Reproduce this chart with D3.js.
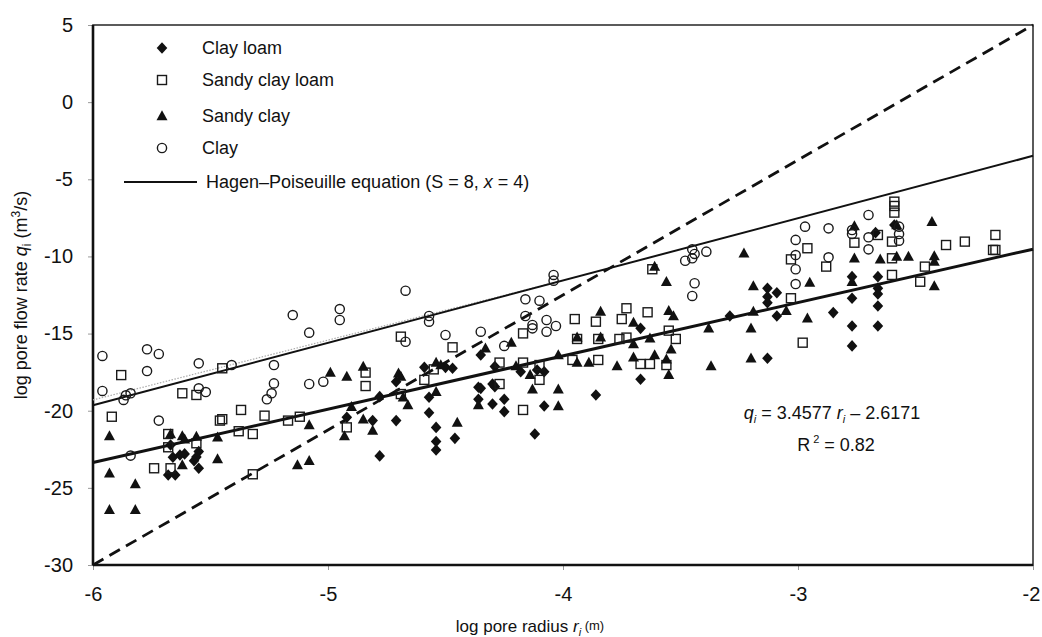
<!DOCTYPE html>
<html>
<head>
<meta charset="utf-8">
<script src="https://cdn.jsdelivr.net/npm/d3@7"></script>
<style>
  body { margin: 0; background: #fff; }
  text { font-family: "Liberation Sans", Arial, sans-serif; fill: #111; }
</style>
</head>
<body>
<svg id="chart"></svg>
<script>
// log pore radius / log pore flow rate pairs
const clayLoam = [
  [-5.67,-22.22],[-5.66,-23.02],[-5.63,-22.87],[-5.61,-22.80],[-5.68,-24.17],[-5.65,-24.17],
  [-5.57,-23.24],[-5.55,-22.65],[-5.55,-23.73],[-5.56,-23.0],[-4.78,-19.09],[-4.81,-20.64],
  [-4.71,-20.64],[-4.78,-22.93],[-4.71,-18.12],[-4.92,-20.43],
  [-4.59,-17.19],[-4.50,-17.19],[-4.47,-17.25],[-4.57,-19.13],[-4.54,-21.08],[-4.57,-20.13],
  [-4.54,-22.0],[-4.54,-22.55],[-4.46,-21.79],[-4.36,-18.48],[-4.35,-18.55],[-4.36,-19.26],
  [-4.30,-19.56],[-4.25,-19.26],[-4.25,-20.06],[-4.30,-18.27],[-4.29,-18.44],[-4.35,-16.39],
  [-4.29,-17.14],[-4.18,-17.47],[-4.11,-17.36],[-4.08,-17.47],[-4.08,-19.69],[-4.12,-21.51],
  [-3.86,-18.98],[-3.67,-14.66],[-3.67,-17.96],
  [-3.13,-12.07],[-3.13,-12.61],[-3.13,-13.0],[-3.09,-12.35],[-3.29,-13.86],[-3.09,-13.86],
  [-2.85,-13.64],[-2.77,-11.31],[-2.77,-12.71],[-2.77,-14.51],[-2.77,-15.80],[-2.66,-11.31],
  [-2.66,-12.07],[-2.66,-12.43],[-2.66,-13.21],[-2.66,-14.51],[-2.67,-8.46],[-3.13,-16.60],
  [-2.59,-7.96]
];
const sandyClayLoam = [
  [-5.88,-17.69],[-5.92,-20.39],[-5.62,-18.87],[-5.56,-18.98],[-5.45,-17.25],[-5.37,-19.95],
  [-5.27,-20.32],[-5.46,-20.64],[-5.45,-20.55],[-5.38,-21.33],[-5.32,-21.51],[-5.17,-20.64],
  [-5.12,-20.39],[-4.84,-17.53],[-4.84,-18.40],[-4.92,-21.08],[-5.68,-21.51],[-5.68,-22.37],
  [-5.56,-22.11],[-5.74,-23.73],[-5.67,-23.73],[-5.32,-24.12],[-4.69,-15.20],[-4.69,-18.92],
  [-4.47,-15.89],[-4.17,-14.99],[-4.27,-16.88],[-4.17,-16.88],[-4.10,-17.04],[-4.10,-18.0],
  [-4.55,-17.32],[-4.59,-18.0],[-4.27,-18.27],[-4.17,-19.95],[-3.95,-14.06],[-3.86,-14.23],
  [-3.75,-14.06],[-3.73,-13.36],[-3.64,-13.62],[-3.94,-15.35],[-3.85,-15.35],[-3.76,-15.35],
  [-3.73,-15.26],[-3.55,-14.81],[-3.52,-15.35],[-3.96,-16.71],[-3.85,-16.71],[-3.67,-16.97],
  [-3.63,-16.97],[-3.56,-17.04],[-3.62,-10.83],
  [-2.59,-6.45],[-2.59,-6.73],[-2.59,-7.16],[-2.66,-8.61],[-2.76,-9.11],[-2.96,-9.47],
  [-3.03,-10.19],[-2.88,-10.66],[-2.60,-9.04],[-2.60,-10.12],[-2.60,-11.20],[-2.37,-9.26],
  [-2.29,-9.04],[-2.16,-8.61],[-2.17,-9.58],[-2.16,-9.58],[-2.46,-10.66],[-2.48,-11.64],
  [-3.03,-12.71],[-2.98,-15.59]
];
const sandyClay = [
  [-5.93,-21.64],[-5.93,-24.05],[-5.82,-24.75],[-5.93,-26.43],[-5.82,-26.43],[-5.67,-21.51],
  [-5.62,-21.64],[-5.61,-21.86],[-5.56,-21.68],[-5.47,-21.73],[-5.62,-23.52],[-5.47,-23.13],
  [-4.99,-17.53],[-4.92,-17.79],[-4.85,-17.14],[-5.08,-20.93],[-5.13,-23.52],[-5.08,-23.24],
  [-4.90,-19.74],[-4.93,-21.64],[-4.85,-20.55],[-4.81,-21.29],[-4.70,-17.58],
  [-4.69,-17.79],[-4.68,-19.13],[-4.66,-19.63],[-4.54,-16.88],[-4.52,-17.04],[-4.54,-18.77],
  [-4.45,-20.77],[-4.36,-19.63],[-4.33,-15.95],[-4.22,-15.59],[-4.20,-17.10],[-4.14,-17.68],
  [-4.13,-18.61],[-4.02,-16.39],[-4.02,-18.61],[-4.02,-19.69],[-3.94,-15.24],[-3.94,-16.88],
  [-3.89,-16.88],[-3.84,-13.58],[-3.84,-15.24],[-3.77,-17.10],[-3.70,-14.29],[-3.70,-15.68],
  [-3.70,-16.54],[-3.63,-15.30],[-3.61,-16.39],[-3.56,-11.64],[-3.55,-13.52],[-3.53,-13.86],
  [-3.54,-16.02],[-3.56,-16.67],[-3.55,-17.68],[-3.61,-10.66],
  [-3.23,-9.80],[-3.19,-11.92],[-2.95,-11.70],[-2.76,-8.03],[-2.76,-10.12],[-2.65,-10.19],
  [-2.58,-10.01],[-2.53,-10.01],[-2.43,-7.75],[-2.42,-9.97],[-2.42,-10.34],[-2.42,-11.92],
  [-2.77,-11.64],[-2.58,-7.96],[-3.38,-14.66],[-3.20,-14.66],[-3.19,-13.58],[-3.05,-13.52],
  [-2.96,-14.01],[-3.37,-17.10],[-3.20,-16.60]
];
const clay = [
  [-5.96,-16.45],[-5.77,-16.02],[-5.72,-16.32],[-5.77,-17.43],[-5.55,-16.93],[-5.96,-18.72],
  [-5.87,-19.3],[-5.84,-18.87],[-5.86,-19.0],[-5.55,-18.55],[-5.52,-18.79],[-5.41,-17.04],
  [-5.23,-17.04],[-5.23,-18.23],[-5.24,-18.87],[-5.26,-19.26],[-5.08,-18.27],[-5.02,-18.12],
  [-5.72,-20.64],[-5.84,-22.91],[-5.08,-14.94],[-5.15,-13.8],[-4.95,-13.41],[-4.95,-14.12],
  [-4.67,-12.22],[-4.57,-13.86],[-4.57,-14.23],[-4.50,-15.09],[-4.67,-15.53],[-4.35,-14.88],
  [-4.25,-15.80],[-4.16,-12.78],[-4.10,-12.87],[-4.16,-13.86],[-4.13,-14.44],[-4.13,-14.66],
  [-4.07,-14.12],[-4.03,-14.51],[-4.07,-14.88],[-4.04,-11.20],[-4.04,-11.57],[-3.45,-9.54],
  [-3.44,-9.84],[-3.48,-10.28],[-3.45,-10.12],[-3.44,-11.74],[-3.45,-12.56],[-3.39,-9.69],
  [-2.97,-8.07],[-2.87,-8.18],[-3.01,-8.93],[-3.01,-9.91],[-3.01,-10.83],[-3.01,-11.79],
  [-2.87,-10.06],[-2.77,-8.29],[-2.77,-8.55],[-2.70,-8.76],[-2.70,-7.31],[-2.70,-9.54],
  [-2.57,-8.07],[-2.57,-8.55],[-2.57,-8.98]
];

// lines: [x, y] end points
const fitLine = [[-6, -23.36], [-2, -9.53]];        // q = 3.4577 r - 2.6171
const hagenLine = [[-6, -19.64], [-2, -3.48]];
const hagenShadow = [[-6, -19.3], [-4.0, -11.55]];
const dashLine = [[-6, -30], [-2, 5]];

const xTicks = [-6, -5, -4, -3, -2];
const yTicks = [5, 0, -5, -10, -15, -20, -25, -30];
const legendNames = ["Clay loam", "Sandy clay loam", "Sandy clay", "Clay"];

const width = 1042, height = 637;
const margin = { top: 25, right: 9, bottom: 72, left: 93 };

const svg = d3.select("#chart").attr("width", width).attr("height", height);
svg.append("rect").attr("width", width).attr("height", height).attr("fill", "#fff");

const x = d3.scaleLinear().domain([-6, -2]).range([margin.left, width - margin.right]);
const y = d3.scaleLinear().domain([-30, 5]).range([height - margin.bottom, margin.top]);

// marker painters
const shapes = {
  diamond: (g) => g.append("path").attr("d", "M0,-5.8L5.3,0L0,5.8L-5.3,0Z").attr("fill", "#111"),
  square: (g) => g.append("rect").attr("x", -4.5).attr("y", -4.5).attr("width", 9).attr("height", 9)
    .attr("fill", "none").attr("stroke", "#1a1a1a").attr("stroke-width", 1.4),
  triangle: (g) => g.append("path").attr("d", "M0,-5.8L5.5,4.2L-5.5,4.2Z").attr("fill", "#111"),
  circle: (g) => g.append("circle").attr("r", 4.6).attr("fill", "none").attr("stroke", "#1a1a1a").attr("stroke-width", 1.4)
};
const series = [
  { name: legendNames[0], data: clayLoam, shape: "diamond" },
  { name: legendNames[1], data: sandyClayLoam, shape: "square" },
  { name: legendNames[2], data: sandyClay, shape: "triangle" },
  { name: legendNames[3], data: clay, shape: "circle" }
];

// axes (plain hyphen minus like the original)
const fmt = (d) => String(d);
const yAxis = svg.append("g")
  .attr("transform", `translate(${margin.left},0)`)
  .call(d3.axisLeft(y).tickValues(yTicks).tickSize(5).tickPadding(15).tickFormat(fmt));
const xAxis = svg.append("g")
  .attr("transform", `translate(0,${height - margin.bottom})`)
  .call(d3.axisBottom(x).tickValues(xTicks).tickSize(5).tickPadding(17).tickFormat(fmt));
[xAxis, yAxis].forEach((a) => {
  a.select(".domain").remove();
  a.selectAll(".tick line").attr("stroke", "#999").attr("stroke-width", 1);
  a.selectAll(".tick text").attr("font-size", 20).attr("fill", "#111")
    .attr("font-family", "Liberation Sans, Arial, sans-serif");
});
// keep the last x label inside the picture
xAxis.selectAll(".tick text").filter((d) => d === -2).attr("dx", -2);

// frame
const x0 = x(-6), x1 = x(-2), y0 = y(-30), y1 = y(5);
svg.append("rect").attr("x", x0).attr("y", y1).attr("width", x1 - x0).attr("height", y0 - y1)
  .attr("fill", "none").attr("stroke", "#333").attr("stroke-width", 1.6);
svg.append("line").attr("x1", x0).attr("x2", x0).attr("y1", y1).attr("y2", y0)
  .attr("stroke", "#111").attr("stroke-width", 2.6);
svg.append("line").attr("x1", x0).attr("x2", x1).attr("y1", y0).attr("y2", y0)
  .attr("stroke", "#111").attr("stroke-width", 2.6);

// lines
const line = d3.line().x((d) => x(d[0])).y((d) => y(d[1]));
const plot = svg.append("g");
plot.append("path").attr("d", line(hagenShadow)).attr("fill", "none")
  .attr("stroke", "#aaa").attr("stroke-width", 1.2).attr("stroke-dasharray", "1.5,1.5");
plot.append("path").attr("d", line(hagenLine)).attr("fill", "none")
  .attr("stroke", "#111").attr("stroke-width", 2);
plot.append("path").attr("d", line(fitLine)).attr("fill", "none")
  .attr("stroke", "#111").attr("stroke-width", 3);
plot.append("path").attr("d", line(dashLine)).attr("fill", "none")
  .attr("stroke", "#111").attr("stroke-width", 2.8).attr("stroke-dasharray", "12,7");

// points
series.forEach((s) => {
  plot.append("g").selectAll("g")
    .data(s.data)
    .join("g")
    .attr("transform", (d) => `translate(${x(d[0])},${y(d[1])})`)
    .each(function () { shapes[s.shape](d3.select(this)); });
});

// legend
const legend = svg.append("g").attr("font-size", 18);
const legendRows = [48, 80, 116, 148];
series.forEach((s, i) => {
  const g = legend.append("g").attr("transform", `translate(162,${legendRows[i]})`);
  shapes[s.shape](g);
  g.append("text").attr("x", 40).attr("y", 6).text(s.name);
});
legend.append("line").attr("x1", 124).attr("x2", 197).attr("y1", 182).attr("y2", 182)
  .attr("stroke", "#111").attr("stroke-width", 2);
const hp = legend.append("text").attr("x", 206).attr("y", 188);
hp.append("tspan").text("Hagen\u2013Poiseuille equation (S = 8, ");
hp.append("tspan").attr("font-style", "italic").text("x");
hp.append("tspan").text(" = 4)");

// equation
const eq = svg.append("g").attr("font-size", 18).attr("text-anchor", "middle");
const e1 = eq.append("text").attr("x", 832).attr("y", 419);
e1.append("tspan").attr("font-style", "italic").text("q");
e1.append("tspan").attr("font-size", 11).attr("font-style", "italic").attr("dy", 4).text("i");
e1.append("tspan").attr("dy", -4).text(" = 3.4577 ");
e1.append("tspan").attr("font-style", "italic").text("r");
e1.append("tspan").attr("font-size", 11).attr("font-style", "italic").attr("dy", 4).text("i");
e1.append("tspan").attr("dy", -4).text(" \u2013 2.6171");
const e2 = eq.append("text").attr("x", 836).attr("y", 451);
e2.append("tspan").text("R");
e2.append("tspan").attr("font-size", 11).attr("dy", -8).text(" 2");
e2.append("tspan").attr("dy", 8).text(" = 0.82");

// axis titles
const yt = svg.append("text").attr("font-size", 18).attr("text-anchor", "middle")
  .attr("transform", `translate(27,${(y0 + y1) / 2}) rotate(-90)`);
yt.append("tspan").text("log pore flow rate ");
yt.append("tspan").attr("font-style", "italic").text("q");
yt.append("tspan").attr("font-size", 12).attr("dy", 4).text("i");
yt.append("tspan").attr("dy", -4).text(" (m");
yt.append("tspan").attr("font-size", 12).attr("dy", -7).text("3");
yt.append("tspan").attr("dy", 7).text("/s)");

const xt = svg.append("text").attr("font-size", 17).attr("text-anchor", "middle")
  .attr("x", 530).attr("y", 632);
xt.append("tspan").text("log pore radius ");
xt.append("tspan").attr("font-style", "italic").text("r");
xt.append("tspan").attr("font-size", 11).attr("font-style", "italic").attr("dy", 4).text("i");
xt.append("tspan").attr("font-size", 13).attr("dy", -6).text("  (m)");
</script>
</body>
</html>
